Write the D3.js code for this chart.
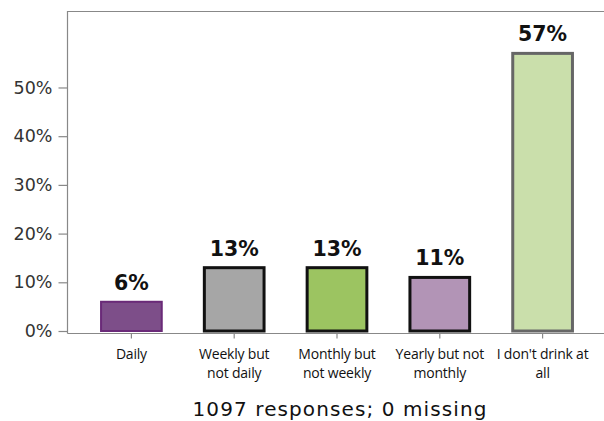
<!DOCTYPE html>
<html><head><meta charset="utf-8">
<script src="https://cdn.jsdelivr.net/npm/d3@7"></script>
<style>body{margin:0;background:#fff}svg{display:block}</style>
</head><body><svg id="c" width="604" height="421"></svg>
<script>
const categories = ["Daily", "Weekly but not daily", "Monthly but not weekly", "Yearly but not monthly", "I don't drink at all"];
const labelLines = [["Daily"], ["Weekly but", "not daily"], ["Monthly but", "not weekly"], ["Yearly but not", "monthly"], ["I don't drink at", "all"]];
const values = [6, 13, 13, 11, 57];
const fills = ["#7d4e89", "#a6a6a6", "#9cc461", "#b294b6", "#cadfab"];
const strokes = ["#6a2a78", "#111111", "#111111", "#111111", "#666666"];
const strokeWidths = [2, 3, 3, 3, 3];
const yTicks = [0, 10, 20, 30, 40, 50];
const footer = "1097 responses; 0 missing";

const svg = d3.select("#c");
const x = d3.scaleBand().domain(categories).range([80, 594]).paddingInner(0.39).paddingOuter(0.195);
const y = d3.scaleLinear().domain([0, 65.6]).range([331, 11.5]);

svg.append("line").attr("x1", 68).attr("x2", 604).attr("y1", 11.5).attr("y2", 11.5).attr("stroke", "#888").attr("stroke-width", 1.2);
svg.append("line").attr("x1", 67.5).attr("x2", 67.5).attr("y1", 11).attr("y2", 333.5).attr("stroke", "#888").attr("stroke-width", 1.2);

const ya = svg.append("g").attr("transform", "translate(67.5,0)")
  .call(d3.axisLeft(y).tickValues(yTicks).tickFormat(d => d + "%").tickSize(9).tickPadding(6));
ya.select(".domain").remove();
ya.selectAll(".tick line").attr("stroke", "#888").attr("stroke-width", 1.2);
ya.selectAll(".tick text").attr("fill", "#333").style("font-family", "'DejaVu Sans', sans-serif").style("font-size", "17.5px");

const xa = svg.append("g").attr("transform", "translate(0,333.5)")
  .call(d3.axisBottom(x).tickSize(5).tickFormat(""));
xa.select(".domain").attr("d", "M67.5,0H604").attr("stroke", "#888").attr("stroke-width", 1.2);
xa.selectAll(".tick line").attr("stroke", "#888").attr("stroke-width", 1.2);

svg.selectAll("rect.bar").data(values).join("rect").attr("class", "bar")
  .attr("x", (d, i) => x(categories[i]) + strokeWidths[i] / 2)
  .attr("width", (d, i) => x.bandwidth() - strokeWidths[i])
  .attr("y", d => y(d))
  .attr("height", d => y(0) - y(d))
  .attr("fill", (d, i) => fills[i])
  .attr("stroke", (d, i) => strokes[i])
  .attr("stroke-width", (d, i) => strokeWidths[i]);

svg.selectAll("text.val").data(values).join("text").attr("class", "val")
  .attr("x", (d, i) => x(categories[i]) + x.bandwidth() / 2)
  .attr("y", d => y(d) - 12)
  .attr("text-anchor", "middle")
  .style("font-family", "'DejaVu Sans', sans-serif").style("font-weight", "bold").style("font-size", "20.5px")
  .attr("fill", "#111").text(d => d + "%");

const cl = svg.selectAll("text.cat").data(categories).join("text").attr("class", "cat")
  .attr("x", d => x(d) + x.bandwidth() / 2)
  .attr("text-anchor", "middle")
  .style("font-family", "'Open Sans', sans-serif").style("font-size", "14px").style("letter-spacing", "-0.2px").attr("fill", "#111");
cl.each(function(d, i) {
  d3.select(this).selectAll("tspan").data(labelLines[i]).join("tspan")
    .attr("x", x(d) + x.bandwidth() / 2).attr("y", (t, j) => 359 + j * 18.5).text(t => t);
});

svg.append("text").attr("x", 340).attr("y", 416).attr("text-anchor", "middle")
  .style("font-family", "'DejaVu Sans', sans-serif").style("font-size", "20px").style("letter-spacing", "1.1px").attr("fill", "#111").text(footer);
</script></body></html>
